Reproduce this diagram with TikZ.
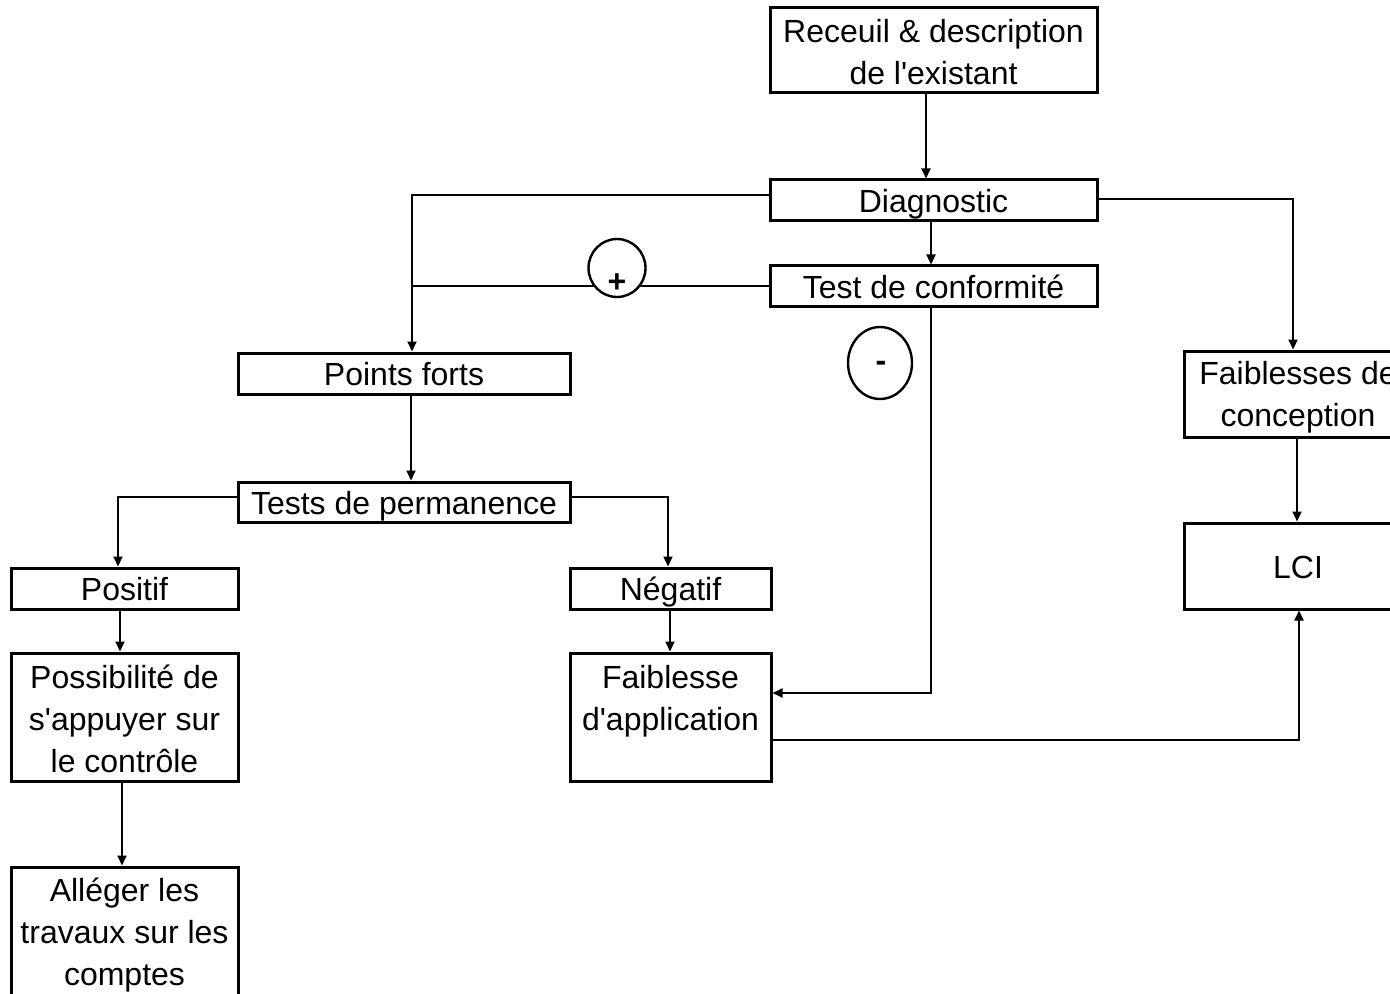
\documentclass[tikz,border=0pt]{standalone}
\usepackage{fontspec}
\setmainfont{Liberation Sans}[Ligatures=TeXOff]
\usetikzlibrary{arrows.meta}
\begin{document}
\begin{tikzpicture}[x=0.5pt,y=-0.5pt,
  box/.style={draw,line width=1.5pt,inner sep=0pt,align=center,
    font=\fontsize{16pt}{21pt}\selectfont},
  one/.style={box,text height=15pt,text depth=3pt},
  txt/.style={inner sep=0pt,align=center,font=\fontsize{16pt}{21pt}\selectfont},
  conn/.style={line width=1pt},
  arr/.style={conn,-{Triangle[length=5pt,width=4.5pt]}},
]
\clip (0,0) rectangle (1390,994);
\useasboundingbox (0,0) rectangle (1390,994);

\node[box,minimum width=163.5pt,minimum height=42.5pt] (rec) at (933.5,50.5) {};
\node[txt] (rect) at (933.5,52) {Receuil \& description\\de l'existant};
\node[one,minimum width=163.5pt,minimum height=20.5pt] (diag) at (933.5,200.5) {Diagnostic};
\node[one,minimum width=163.5pt,minimum height=20.5pt] (test) at (933.5,286.5) {Test de conformité};
\node[one,minimum width=166pt,minimum height=20.5pt] (pf) at (404,373.5) {Points forts};
\node[box,minimum width=114pt,minimum height=43pt] (fc) at (1298,394) {};
\node[txt] (fct) at (1298,397) {Faiblesses de\\conception};
\node[one,minimum width=114pt,minimum height=43pt] (lci) at (1298,566) {LCI};
\node[one,minimum width=166pt,minimum height=20pt] (tp) at (404,502) {Tests de permanence};
\node[one,minimum width=113.5pt,minimum height=20.5pt] (pos) at (124.5,588.5) {Positif};
\node[one,minimum width=100.5pt,minimum height=20.5pt] (neg) at (670.5,588.5) {Négatif};
\node[box,minimum width=113.5pt,minimum height=64pt] (poss) at (124.5,717) {};
\node[txt] (posst) at (124.5,719) {Possibilité de\\s'appuyer sur\\le contrôle};
\node[box,minimum width=100.5pt,minimum height=64pt] (fa) at (670.5,717) {};
\node[txt] (fat) at (670.5,719) {Faiblesse\\d'application\\\phantom{l}};
\node[box,minimum width=113.5pt,minimum height=66.5pt] (all) at (124.5,933.5) {};
\node[txt] (allt) at (124.5,935) {Alléger les\\travaux sur les\\comptes};

\coordinate (jx) at (412,0);
\coordinate (jr) at (931,0);

% connectors
\draw[arr] (rec.south -| 926,0) -- (diag.north -| 926,0);
\draw[arr] (diag.south -| jr) -- (test.north -| jr);
\draw[arr] (diag.west |- 0,195) -- (jx |- 0,195) -- (jx |- pf.north);
\draw[conn] (test.west) -- (jx |- test.west);
\draw[arr] (test.south -| jr) -- (jr |- 0,693) -- (fa.east |- 0,693);
\draw[arr] (diag.east |- 0,199) -| (fc.north -| 1293,0);
\draw[arr] (fc.south -| 1297,0) -- (lci.north -| 1297,0);
\draw[arr] (fa.east |- 0,740) -| (lci.south -| 1299,0);
\draw[arr] (pf.south -| 411,0) -- (tp.north -| 411,0);
\draw[arr] (tp.west |- 0,497) -| (pos.north -| 118,0);
\draw[arr] (tp.east |- 0,497) -| (neg.north -| 668,0);
\draw[arr] (pos.south -| 120,0) -- (poss.north -| 120,0);
\draw[arr] (neg.south -| 670,0) -- (fa.north -| 670,0);
\draw[arr] (poss.south -| 122,0) -- (all.north -| 122,0);

% sign circles
\draw[line width=1.2pt,fill=white] (617,268) ellipse [x radius=14.25pt, y radius=14.5pt];
\node[font=\fontsize{16pt}{16pt}\selectfont\bfseries] (plus) at (617,283) {+};
\draw[line width=1.2pt,fill=white] (880,363) ellipse [x radius=16pt, y radius=18pt];
\node[font=\fontsize{16pt}{16pt}\selectfont\bfseries] (minus) at (881,366) {-};
\end{tikzpicture}
\end{document}
